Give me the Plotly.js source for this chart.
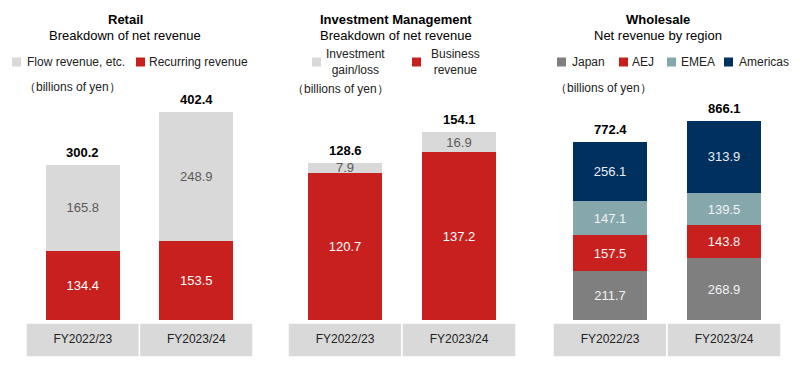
<!DOCTYPE html>
<html>
<head>
<meta charset="utf-8">
<script src="https://cdn.plot.ly/plotly-3.0.1.min.js"></script>
<style>html,body{margin:0;padding:0;background:#fff;}#chart{width:800px;height:370px;}</style>
</head>
<body>
<div id="chart"></div>
<script>
// ---- data ----
const categories = ['FY2022/23', 'FY2023/24'];

const retailNames = ['Recurring revenue', 'Flow revenue, etc.'];
const retailRecurring = [134.4, 153.5];
const retailFlow = [165.8, 248.9];
const retailTotal = [300.2, 402.4];

const imNames = ['Business<br>revenue', 'Investment<br>gain/loss'];
const imBusiness = [120.7, 137.2];
const imGain = [7.9, 16.9];
const imTotal = [128.6, 154.1];

const wsNames = ['Japan', 'AEJ', 'EMEA', 'Americas'];
const wsJapan = [211.7, 268.9];
const wsAEJ = [157.5, 143.8];
const wsEMEA = [147.1, 139.5];
const wsAmericas = [256.1, 313.9];
const wsTotal = [772.4, 866.1];

// ---- styling ----
const W = 800, H = 370;
const px = x => x / W;
const py = y => 1 - y / H;
const FONT = 'Liberation Sans, Arial, sans-serif';
const RED = '#c8201e', LGRAY = '#d9d9d9', DGRAY = '#7f7f7f', TEAL = '#86a8ad', NAVY = '#00305e';

function bar(xa, ya, name, vals, color, txtColor) {
  return {
    type: 'bar', x: categories, y: vals, name: name,
    xaxis: xa, yaxis: ya, width: 0.65,
    marker: {color: color, line: {width: 0}},
    text: vals.map(v => v.toFixed(1)), textposition: 'inside',
    insidetextanchor: 'middle', constraintext: 'none', textangle: 0,
    textfont: {family: FONT, size: 13, color: txtColor},
    hoverinfo: 'skip', showlegend: false, cliponaxis: false
  };
}

const data = [
  bar('x', 'y', retailNames[0], retailRecurring, RED, '#ffffff'),
  bar('x', 'y', retailNames[1], retailFlow, LGRAY, '#595959'),
  bar('x2', 'y2', imNames[0], imBusiness, RED, '#ffffff'),
  bar('x2', 'y2', imNames[1], imGain, LGRAY, '#595959'),
  bar('x3', 'y3', wsNames[0], wsJapan, DGRAY, '#f2f2f2'),
  bar('x3', 'y3', wsNames[1], wsAEJ, RED, '#f2f2f2'),
  bar('x3', 'y3', wsNames[2], wsEMEA, TEAL, '#f2f2f2'),
  bar('x3', 'y3', wsNames[3], wsAmericas, NAVY, '#e8eef6')
];

function xax(l, r) {
  return {domain: [px(l), px(r)], type: 'category', range: [-0.5, 1.5],
    showgrid: false, zeroline: false, showline: false, ticks: '',
    tickfont: {family: FONT, size: 12, color: '#222'}, ticklabelstandoff: 10, fixedrange: true};
}
function yax(max) {
  return {domain: [50 / H, 1], range: [0, max], visible: false, fixedrange: true};
}

const shapes = [];
const annotations = [];

// category bands
[['x', 26, 253], ['x2', 288, 516], ['x3', 553, 781]].forEach(([xr]) => {
  [[-0.5, 0.5], [0.5, 1.5]].forEach(([a, b]) => {
    shapes.push({type: 'rect', xref: xr, yref: 'paper', x0: a, x1: b, y0: py(357), y1: py(323),
      fillcolor: LGRAY, line: {color: '#ffffff', width: 1.5}, layer: 'below'});
  });
});

// totals
function totals(xr, yr, vals) {
  vals.forEach((v, i) => annotations.push({xref: xr, yref: yr, x: categories[i], y: v,
    text: '<b>' + v.toFixed(1) + '</b>', showarrow: false, yanchor: 'bottom', yshift: 3,
    font: {family: FONT, size: 13, color: '#000'}}));
}
totals('x', 'y', retailTotal);
totals('x2', 'y2', imTotal);
totals('x3', 'y3', wsTotal);

// titles
function title(cx, main, sub) {
  annotations.push({xref: 'paper', yref: 'paper', x: px(cx), y: py(19), text: '<b>' + main + '</b>',
    showarrow: false, xanchor: 'center', yanchor: 'middle', font: {family: FONT, size: 13, color: '#000'}});
  annotations.push({xref: 'paper', yref: 'paper', x: px(cx), y: py(35), text: sub,
    showarrow: false, xanchor: 'center', yanchor: 'middle', font: {family: FONT, size: 13, color: '#000'}});
}
title(125, 'Retail', 'Breakdown of net revenue');
title(396, 'Investment Management', 'Breakdown of net revenue');
title(658, 'Wholesale', 'Net revenue by region');

// units
[[22, 87], [290, 89], [553, 88]].forEach(([x, y]) => annotations.push({xref: 'paper', yref: 'paper',
  x: px(x), y: py(y), text: '（billions of yen）', showarrow: false, xanchor: 'left', yanchor: 'middle',
  font: {family: FONT, size: 12, color: '#222'}}));

// legend keys
function key(sx, sy, color, label, tx, anchor) {
  shapes.push({type: 'rect', xref: 'paper', yref: 'paper', x0: px(sx), x1: px(sx + 9),
    y0: py(sy + 4.5), y1: py(sy - 4.5), fillcolor: color, line: {width: 0}});
  annotations.push({xref: 'paper', yref: 'paper', x: px(tx), y: py(sy), text: label, showarrow: false,
    xanchor: anchor || 'left', yanchor: 'middle', align: 'center',
    font: {family: FONT, size: 12, color: '#222'}});
}
key(12, 62, LGRAY, retailNames[1], 25);
key(136, 62, RED, retailNames[0], 147);
key(312, 62, LGRAY, imNames[1], 355, 'center');
key(412, 62, RED, imNames[0], 455, 'center');
key(557, 62, DGRAY, wsNames[0], 570);
key(619, 62, RED, wsNames[1], 630);
key(667, 62, TEAL, wsNames[2], 679);
key(724, 62, NAVY, wsNames[3], 737);

const layout = {
  width: W, height: H, margin: {l: 0, r: 0, t: 0, b: 0},
  paper_bgcolor: '#fff', plot_bgcolor: 'rgba(0,0,0,0)',
  barmode: 'stack', showlegend: false,
  xaxis: xax(26, 253), xaxis2: xax(288, 516), xaxis3: xax(553, 781),
  yaxis: Object.assign(yax(619), {anchor: 'x'}),
  yaxis2: Object.assign(yax(262), {anchor: 'x2'}),
  yaxis3: Object.assign(yax(1392), {anchor: 'x3'}),
  shapes: shapes, annotations: annotations,
  font: {family: FONT}
};
layout.xaxis.anchor = 'y'; layout.xaxis2.anchor = 'y2'; layout.xaxis3.anchor = 'y3';

Plotly.newPlot('chart', data, layout, {displayModeBar: false, staticPlot: true});
</script>
</body>
</html>
